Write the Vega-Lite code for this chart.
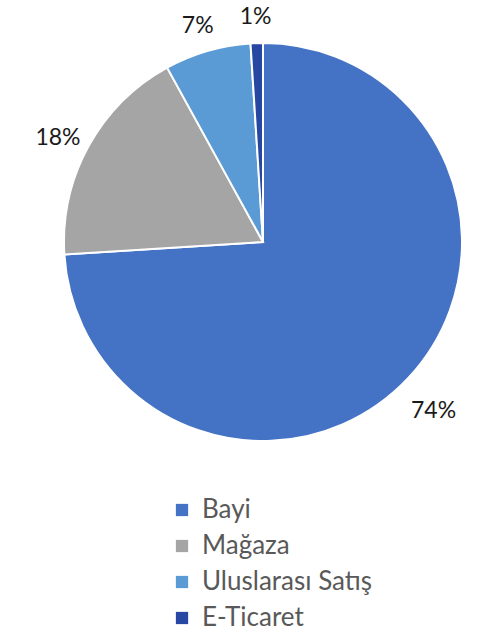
{
  "$schema": "https://vega.github.io/schema/vega-lite/v6.json",
  "width": 470,
  "height": 484,
  "padding": {"left": 28, "top": 0, "right": 0, "bottom": 150},
  "autosize": {"type": "none"},
  "background": "white",
  "config": {"view": {"stroke": null}, "font": "Lato"},
  "data": {"values": [
    {"kanal": "Bayi", "value": 0.74},
    {"kanal": "Mağaza", "value": 0.18},
    {"kanal": "Uluslarası Satış", "value": 0.07},
    {"kanal": "E-Ticaret", "value": 0.01}
  ]},
  "encoding": {
    "theta": {"field": "value", "type": "quantitative", "stack": true},
    "order": {"field": "value", "sort": "descending"},
    "color": {
      "field": "kanal", "type": "nominal",
      "scale": {"domain": ["Bayi", "Mağaza", "Uluslarası Satış", "E-Ticaret"], "range": ["#4472C4", "#A5A5A5", "#5B9BD5", "#2647A2"]},
      "legend": {
        "title": null, "orient": "none", "legendX": 141, "legendY": 497,
        "symbolType": "square", "symbolSize": 150, "symbolStrokeWidth": 0,
        "labelFontSize": 26, "labelColor": "#595959", "labelFont": "Lato",
        "labelOffset": 7, "rowPadding": 10, "labelLimit": 400
      }
    }
  },
  "layer": [
    {"mark": {"type": "arc", "outerRadius": 199, "stroke": "white", "strokeWidth": 2}},
    {"mark": {"type": "text", "radius": 234, "dy": 9, "fontSize": 23, "color": "#1a1a1a"},
     "encoding": {"text": {"field": "value", "type": "quantitative", "format": ".0%"}, "color": {"value": "#1a1a1a"}}}
  ]
}
